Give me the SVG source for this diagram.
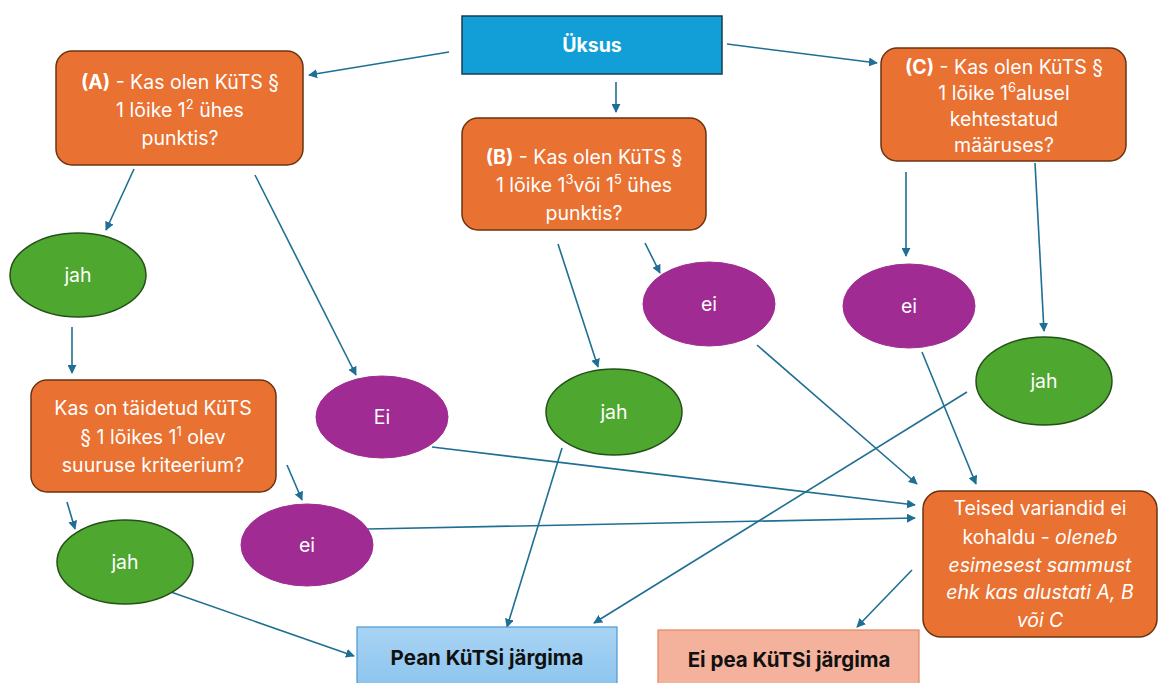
<svg xmlns="http://www.w3.org/2000/svg" width="1160" height="683" viewBox="0 0 1160 683">
<defs>
<style>
.t{font-family:Inter,"Open Sans","Liberation Sans",sans-serif;font-size:19.5px;fill:#ffffff;text-anchor:middle}
.b{font-weight:bold}
.dark{fill:#111111;font-size:20.5px}
.sup{font-size:13px}
.or{fill:#e97132;stroke:#6b3310;stroke-width:1.5}
.gr{fill:#4ea72e;stroke:#24501a;stroke-width:1.5}
.pu{fill:#a02b93;stroke:#a02b93;stroke-width:1}
.c{stroke:#1f6f94;stroke-width:1.6;fill:none;marker-end:url(#ah)}
</style>
<marker id="ah" viewBox="0 0 10 10" refX="9" refY="5" markerWidth="9" markerHeight="9" markerUnits="userSpaceOnUse" orient="auto">
<path d="M0,0 L10,5 L0,10 z" fill="#1f6f94"/>
</marker>
<linearGradient id="gb" x1="0" y1="0" x2="0" y2="1">
<stop offset="0" stop-color="#a9d4f4"/>
<stop offset="1" stop-color="#8cc4ee"/>
</linearGradient>
</defs>
<rect width="1160" height="683" fill="#ffffff"/>

<g id="connectors">
<line class="c" x1="449" y1="52" x2="309" y2="75"/>
<line class="c" x1="616" y1="82" x2="616" y2="112"/>
<line class="c" x1="727" y1="44" x2="877" y2="63"/>
<line class="c" x1="134" y1="169" x2="106" y2="230"/>
<line class="c" x1="255" y1="175" x2="356" y2="375"/>
<line class="c" x1="72" y1="327" x2="72" y2="373"/>
<line class="c" x1="67" y1="502" x2="75" y2="529"/>
<line class="c" x1="287" y1="465" x2="302" y2="500"/>
<line class="c" x1="168" y1="591" x2="354" y2="656"/>
<line class="c" x1="432" y1="447" x2="915" y2="505"/>
<line class="c" x1="368" y1="529" x2="915" y2="518"/>
<line class="c" x1="558" y1="244" x2="598" y2="367"/>
<line class="c" x1="645" y1="243" x2="660" y2="273"/>
<line class="c" x1="757" y1="345" x2="917" y2="484"/>
<line class="c" x1="562" y1="448" x2="507" y2="627"/>
<line class="c" x1="906" y1="172" x2="906" y2="256"/>
<line class="c" x1="1035" y1="163" x2="1044" y2="331"/>
<line class="c" x1="922" y1="352" x2="976" y2="484"/>
<line class="c" x1="967" y1="392" x2="594" y2="623"/>
<line class="c" x1="912" y1="570" x2="857" y2="627"/>
</g>

<g id="uksus">
<rect x="462" y="16" width="260" height="58" fill="#129fd7" stroke="#1d3b50" stroke-width="1.5"/>
<text class="t b" x="592" y="52">Üksus</text>
</g>

<g id="nodeA">
<rect class="or" x="56" y="51" width="247" height="114" rx="16"/>
<text class="t" x="180" y="89"><tspan class="b">(A)</tspan> - Kas olen KüTS §</text>
<text class="t" x="180" y="117">1 lõike 1<tspan class="sup" dy="-8">2</tspan><tspan dy="8"> ühes</tspan></text>
<text class="t" x="180" y="145">punktis?</text>
</g>

<g id="nodeB">
<rect class="or" x="462" y="118" width="244" height="112" rx="16"/>
<text class="t" x="584" y="164"><tspan class="b">(B)</tspan> - Kas olen KüTS §</text>
<text class="t" x="584" y="192">1 lõike 1<tspan class="sup" dy="-8">3</tspan><tspan dy="8">või 1</tspan><tspan class="sup" dy="-8">5</tspan><tspan dy="8"> ühes</tspan></text>
<text class="t" x="584" y="220">punktis?</text>
</g>

<g id="nodeC">
<rect class="or" x="881" y="48" width="245" height="113" rx="16"/>
<text class="t" x="1004" y="74"><tspan class="b">(C)</tspan> - Kas olen KüTS §</text>
<text class="t" x="1004" y="100">1 lõike 1<tspan class="sup" dy="-8">6</tspan><tspan dy="8">alusel</tspan></text>
<text class="t" x="1004" y="126">kehtestatud</text>
<text class="t" x="1004" y="152">määruses?</text>
</g>

<g id="jahA">
<ellipse class="gr" cx="78" cy="275" rx="68" ry="42"/>
<text class="t" x="78" y="282">jah</text>
</g>

<g id="nodeKas">
<rect class="or" x="31" y="380" width="245" height="112" rx="16"/>
<text class="t" x="153" y="415">Kas on täidetud KüTS</text>
<text class="t" x="153" y="444">§ 1 lõikes 1<tspan class="sup" dy="-8">1</tspan><tspan dy="8"> olev</tspan></text>
<text class="t" x="153" y="472">suuruse kriteerium?</text>
</g>

<g id="EiA">
<ellipse class="pu" cx="382" cy="417" rx="66" ry="41"/>
<text class="t" x="382" y="424">Ei</text>
</g>

<g id="jahKas">
<ellipse class="gr" cx="125" cy="562" rx="68" ry="42"/>
<text class="t" x="125" y="569">jah</text>
</g>

<g id="eiKas">
<ellipse class="pu" cx="307" cy="545" rx="66" ry="41"/>
<text class="t" x="307" y="552">ei</text>
</g>

<g id="jahB">
<ellipse class="gr" cx="614" cy="412" rx="68" ry="43"/>
<text class="t" x="614" y="419">jah</text>
</g>

<g id="eiB">
<ellipse class="pu" cx="709" cy="304" rx="66" ry="42"/>
<text class="t" x="709" y="311">ei</text>
</g>

<g id="eiC">
<ellipse class="pu" cx="909" cy="306" rx="66" ry="42"/>
<text class="t" x="909" y="313">ei</text>
</g>

<g id="jahC">
<ellipse class="gr" cx="1044" cy="381" rx="68" ry="44"/>
<text class="t" x="1044" y="388">jah</text>
</g>

<g id="teised">
<rect class="or" x="923" y="491" width="234" height="146" rx="18"/>
<text class="t" x="1040" y="515">Teised variandid ei</text>
<text class="t" x="1040" y="544">kohaldu - <tspan font-style="italic">oleneb</tspan></text>
<text class="t" x="1040" y="572" font-style="italic">esimesest sammust</text>
<text class="t" x="1040" y="599" font-style="italic">ehk kas alustati A, B</text>
<text class="t" x="1040" y="627" font-style="italic">või C</text>
</g>

<g id="pean">
<rect x="357" y="627" width="260" height="60" fill="url(#gb)" stroke="#4a98d4" stroke-width="1.2"/>
<text class="t b dark" x="487" y="665">Pean KüTSi järgima</text>
</g>

<g id="eipea">
<rect x="658" y="630" width="261" height="57" fill="#f4b19c" stroke="#e8845f" stroke-width="1.2"/>
<text class="t b dark" x="789" y="667">Ei pea KüTSi järgima</text>
</g>
</svg>
